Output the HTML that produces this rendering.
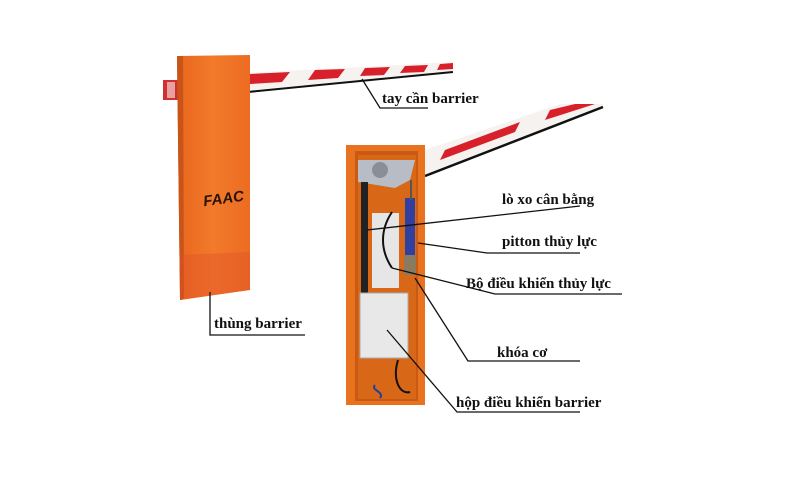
<!DOCTYPE html>
<html><head><meta charset="utf-8"><style>
body{margin:0;background:#fff}
svg{display:block}
text{font-family:"Liberation Serif","DejaVu Serif",serif;font-weight:bold;font-size:15px;fill:#111}
</style></head><body>
<svg width="800" height="478" viewBox="0 0 800 478" xmlns="http://www.w3.org/2000/svg">
<defs>
<linearGradient id="og" x1="0" x2="1"><stop offset="0" stop-color="#e8661e"/><stop offset="0.5" stop-color="#f27a2a"/><stop offset="1" stop-color="#ec6c22"/></linearGradient>
</defs>
<polygon points="248,73 453,62 453,72 248,92" fill="#f6f2f0"/>
<g fill="#d8202a">
<polygon points="250,74 290,72 282,82 250,84"/>
<polygon points="315,70 345,69 338,78 308,80"/>
<polygon points="365,68 390,67 384,75 360,76"/>
<polygon points="405,66 428,65 424,72 400,73"/>
<polygon points="440,64 453,63 453,69 437,70"/>
</g>
<line x1="248" y1="92" x2="453" y2="72" stroke="#111" stroke-width="2"/>
<rect x="163" y="80" width="15" height="20" fill="#d03030"/>
<rect x="167" y="82" width="8" height="16" fill="#e8a0a0"/>
<polygon points="177,56 250,55 250,290 180,300" fill="url(#og)"/>
<polygon points="177,56 183,56 184,299 180,300" fill="#c85418"/>
<polygon points="180,255 250,252 250,290 180,300" fill="#e0502a" opacity="0.4"/>
<text x="203" y="204" font-style="italic" style="font-family:'Liberation Sans',sans-serif;font-size:15px;fill:#2a1408" transform="rotate(-8 220 198)">FAAC</text>
<polyline points="210,292 210,335 305,335" fill="none" stroke="#111" stroke-width="1.3"/>
<text x="214" y="328">thùng barrier</text>
<polyline points="362,79 380,108 428,108" fill="none" stroke="#111" stroke-width="1.3"/>
<text x="382" y="103">tay cần barrier</text>
<polygon points="425,150 560,104 603,104 603,108 425,176" fill="#f6f2f0"/>
<g fill="#d8202a">
<polygon points="445,150 520,122 515,132 440,160"/>
<polygon points="550,110 575,104 595,104 545,120"/>
</g>
<line x1="425" y1="176" x2="603" y2="107" stroke="#111" stroke-width="2.5"/>
<rect x="346" y="145" width="79" height="260" fill="#e8721e"/>
<rect x="355" y="151" width="63" height="250" fill="#c95a14"/>
<rect x="358" y="155" width="58" height="244" fill="#d86818"/>
<polygon points="358,160 415,160 410,180 395,188 358,182" fill="#b8bcc4"/>
<circle cx="380" cy="170" r="8" fill="#8a8e96"/>
<rect x="361" y="182" width="7" height="130" fill="#222"/>
<rect x="372" y="213" width="27" height="75" fill="#e6e6e6"/>
<path d="M392,268 C380,250 380,230 392,212" stroke="#111" stroke-width="2" fill="none"/>
<rect x="405" y="198" width="10" height="58" fill="#3040a0"/>
<rect x="410" y="180" width="2" height="20" fill="#555"/>
<rect x="404" y="255" width="12" height="20" fill="#8a7a60"/>
<rect x="360" y="293" width="48" height="65" fill="#e8e8e8" stroke="#aaa" stroke-width="1"/>
<path d="M375,385 C370,390 385,392 380,398" stroke="#2040a0" stroke-width="2" fill="none"/>
<path d="M398,360 C392,380 400,395 410,392" stroke="#111" stroke-width="2" fill="none"/>
<g fill="none" stroke="#111" stroke-width="1.3">
<line x1="367" y1="230" x2="580" y2="206"/>
<polyline points="418,243 487,253 580,253"/>
<polyline points="392,268 495,294 622,294"/>
<polyline points="415,278 468,361 580,361"/>
<polyline points="387,330 457,412 580,412"/>
</g>
<text x="502" y="204">lò xo cân bằng</text>
<text x="502" y="246">pitton thủy lực</text>
<text x="466" y="288">Bộ điều khiển thủy lực</text>
<text x="497" y="357">khóa cơ</text>
<text x="456" y="407">hộp điều khiển barrier</text>
</svg>
</body></html>
